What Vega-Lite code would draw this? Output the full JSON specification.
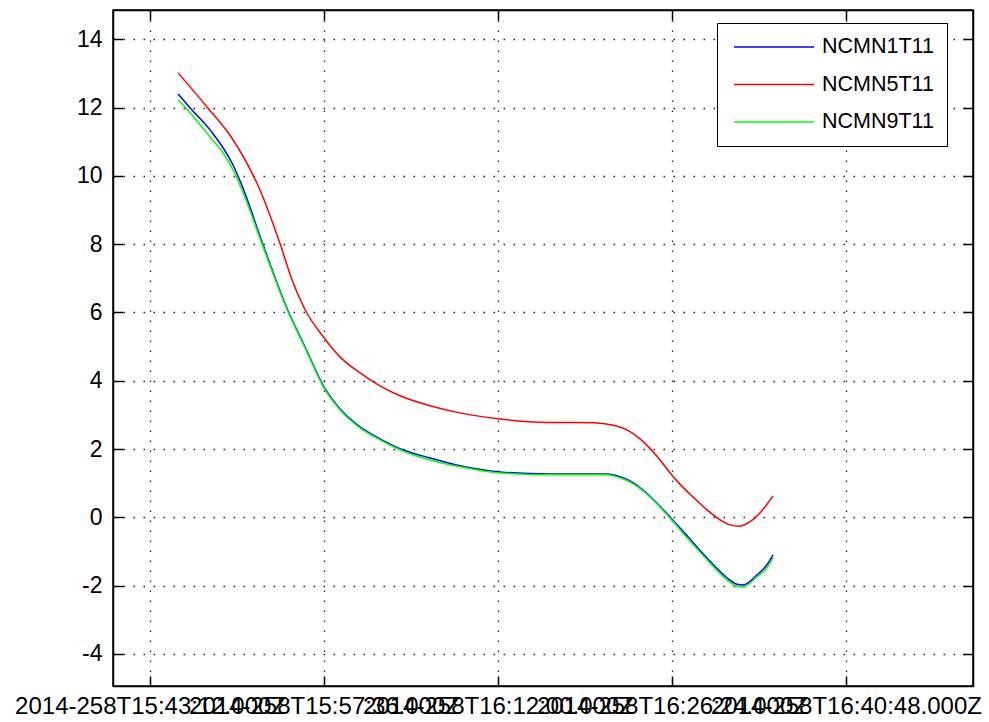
{
  "$schema": "https://vega.github.io/schema/vega-lite/v6.json",
  "width": 860,
  "height": 676,
  "autosize": {"type": "none"},
  "padding": {"left": 113, "top": 10, "right": 16, "bottom": 36},
  "background": "white",
  "config": {
    "view": {"stroke": "#000000", "strokeWidth": 1.5},
    "font": "Liberation Sans",
    "axis": {
      "domainColor": "#000000",
      "domainWidth": 1.5,
      "tickColor": "#000000",
      "tickWidth": 1.5,
      "tickSize": -10,
      "labelColor": "#000000",
      "labelFont": "Liberation Sans",
      "gridColor": "#000000",
      "gridDash": [1.6, 8.4],
      "gridWidth": 1.3,
      "gridOpacity": 0.85,
      "title": null
    }
  },
  "data": {
    "values": [
      {"s": "NCMN1T11", "t": 139, "v": 12.40},
      {"s": "NCMN1T11", "t": 199, "v": 11.99},
      {"s": "NCMN1T11", "t": 298, "v": 11.35},
      {"s": "NCMN1T11", "t": 412, "v": 10.32},
      {"s": "NCMN1T11", "t": 457, "v": 9.71},
      {"s": "NCMN1T11", "t": 556, "v": 8.07},
      {"s": "NCMN1T11", "t": 685, "v": 6.05},
      {"s": "NCMN1T11", "t": 770, "v": 4.99},
      {"s": "NCMN1T11", "t": 864, "v": 3.82},
      {"s": "NCMN1T11", "t": 943, "v": 3.18},
      {"s": "NCMN1T11", "t": 1043, "v": 2.65},
      {"s": "NCMN1T11", "t": 1142, "v": 2.30},
      {"s": "NCMN1T11", "t": 1241, "v": 2.01},
      {"s": "NCMN1T11", "t": 1390, "v": 1.74},
      {"s": "NCMN1T11", "t": 1539, "v": 1.51},
      {"s": "NCMN1T11", "t": 1738, "v": 1.33},
      {"s": "NCMN1T11", "t": 1986, "v": 1.27},
      {"s": "NCMN1T11", "t": 2269, "v": 1.27},
      {"s": "NCMN1T11", "t": 2334, "v": 1.19},
      {"s": "NCMN1T11", "t": 2398, "v": 1.02},
      {"s": "NCMN1T11", "t": 2448, "v": 0.80},
      {"s": "NCMN1T11", "t": 2517, "v": 0.42},
      {"s": "NCMN1T11", "t": 2582, "v": 0.01},
      {"s": "NCMN1T11", "t": 2667, "v": -0.54},
      {"s": "NCMN1T11", "t": 2766, "v": -1.19},
      {"s": "NCMN1T11", "t": 2865, "v": -1.77},
      {"s": "NCMN1T11", "t": 2915, "v": -1.96},
      {"s": "NCMN1T11", "t": 2945, "v": -1.98},
      {"s": "NCMN1T11", "t": 3014, "v": -1.69},
      {"s": "NCMN1T11", "t": 3064, "v": -1.39},
      {"s": "NCMN1T11", "t": 3094, "v": -1.10},

      {"s": "NCMN5T11", "t": 139, "v": 13.02},
      {"s": "NCMN5T11", "t": 283, "v": 12.02},
      {"s": "NCMN5T11", "t": 412, "v": 11.06},
      {"s": "NCMN5T11", "t": 546, "v": 9.59},
      {"s": "NCMN5T11", "t": 646, "v": 8.01},
      {"s": "NCMN5T11", "t": 705, "v": 6.96},
      {"s": "NCMN5T11", "t": 770, "v": 6.08},
      {"s": "NCMN5T11", "t": 864, "v": 5.26},
      {"s": "NCMN5T11", "t": 943, "v": 4.70},
      {"s": "NCMN5T11", "t": 1043, "v": 4.23},
      {"s": "NCMN5T11", "t": 1142, "v": 3.85},
      {"s": "NCMN5T11", "t": 1241, "v": 3.56},
      {"s": "NCMN5T11", "t": 1390, "v": 3.27},
      {"s": "NCMN5T11", "t": 1539, "v": 3.06},
      {"s": "NCMN5T11", "t": 1738, "v": 2.88},
      {"s": "NCMN5T11", "t": 1971, "v": 2.78},
      {"s": "NCMN5T11", "t": 2200, "v": 2.77},
      {"s": "NCMN5T11", "t": 2300, "v": 2.70},
      {"s": "NCMN5T11", "t": 2369, "v": 2.56},
      {"s": "NCMN5T11", "t": 2433, "v": 2.30},
      {"s": "NCMN5T11", "t": 2483, "v": 2.02},
      {"s": "NCMN5T11", "t": 2530, "v": 1.70},
      {"s": "NCMN5T11", "t": 2580, "v": 1.32},
      {"s": "NCMN5T11", "t": 2630, "v": 0.98},
      {"s": "NCMN5T11", "t": 2696, "v": 0.60},
      {"s": "NCMN5T11", "t": 2766, "v": 0.22},
      {"s": "NCMN5T11", "t": 2830, "v": -0.07},
      {"s": "NCMN5T11", "t": 2880, "v": -0.22},
      {"s": "NCMN5T11", "t": 2930, "v": -0.26},
      {"s": "NCMN5T11", "t": 2979, "v": -0.13},
      {"s": "NCMN5T11", "t": 3029, "v": 0.13},
      {"s": "NCMN5T11", "t": 3094, "v": 0.63},

      {"s": "NCMN9T11", "t": 139, "v": 12.23},
      {"s": "NCMN9T11", "t": 199, "v": 11.85},
      {"s": "NCMN9T11", "t": 298, "v": 11.14},
      {"s": "NCMN9T11", "t": 362, "v": 10.68},
      {"s": "NCMN9T11", "t": 412, "v": 10.18},
      {"s": "NCMN9T11", "t": 457, "v": 9.59},
      {"s": "NCMN9T11", "t": 556, "v": 8.01},
      {"s": "NCMN9T11", "t": 685, "v": 6.02},
      {"s": "NCMN9T11", "t": 770, "v": 4.96},
      {"s": "NCMN9T11", "t": 864, "v": 3.79},
      {"s": "NCMN9T11", "t": 943, "v": 3.15},
      {"s": "NCMN9T11", "t": 1043, "v": 2.62},
      {"s": "NCMN9T11", "t": 1142, "v": 2.27},
      {"s": "NCMN9T11", "t": 1241, "v": 1.98},
      {"s": "NCMN9T11", "t": 1390, "v": 1.68},
      {"s": "NCMN9T11", "t": 1539, "v": 1.48},
      {"s": "NCMN9T11", "t": 1738, "v": 1.30},
      {"s": "NCMN9T11", "t": 1986, "v": 1.25},
      {"s": "NCMN9T11", "t": 2269, "v": 1.25},
      {"s": "NCMN9T11", "t": 2334, "v": 1.16},
      {"s": "NCMN9T11", "t": 2398, "v": 0.99},
      {"s": "NCMN9T11", "t": 2448, "v": 0.78},
      {"s": "NCMN9T11", "t": 2517, "v": 0.40},
      {"s": "NCMN9T11", "t": 2582, "v": -0.02},
      {"s": "NCMN9T11", "t": 2667, "v": -0.60},
      {"s": "NCMN9T11", "t": 2766, "v": -1.24},
      {"s": "NCMN9T11", "t": 2865, "v": -1.83},
      {"s": "NCMN9T11", "t": 2915, "v": -2.02},
      {"s": "NCMN9T11", "t": 2945, "v": -2.04},
      {"s": "NCMN9T11", "t": 3014, "v": -1.74},
      {"s": "NCMN9T11", "t": 3064, "v": -1.48},
      {"s": "NCMN9T11", "t": 3094, "v": -1.19}
    ]
  },
  "layer": [
    {
      "mark": {"type": "line", "strokeWidth": 1.5, "interpolate": "monotone"},
      "encoding": {
        "x": {
          "field": "t", "type": "quantitative",
          "scale": {"domain": [-184, 4087], "nice": false, "zero": false},
          "axis": {
            "orient": "bottom",
            "values": [0, 864, 1728, 2592, 3456],
            "grid": true,
            "labelFontSize": 24,
            "labelPadding": 18,
            "labelOverlap": false,
            "labelFlush": false,
            "labelBound": false,
            "labelLimit": 0,
            "labelExpr": "datum.value == 0 ? '2014-258T15:43:12.000Z' : datum.value == 864 ? '2014-258T15:57:36.000Z' : datum.value == 1728 ? '2014-258T16:12:00.000Z' : datum.value == 2592 ? '2014-258T16:26:24.000Z' : '2014-258T16:40:48.000Z'"
          }
        },
        "y": {
          "field": "v", "type": "quantitative",
          "scale": {"domain": [-4.94, 14.86], "nice": false, "zero": false},
          "axis": {
            "orient": "left",
            "values": [-4, -2, 0, 2, 4, 6, 8, 10, 12, 14],
            "grid": true,
            "labelFontSize": 23,
            "labelPadding": 21,
            "labelExpr": "'' + datum.value"
          }
        },
        "color": {
          "field": "s", "type": "nominal",
          "scale": {"domain": ["NCMN1T11", "NCMN5T11", "NCMN9T11"], "range": ["#0000ff", "#ff0000", "#00ff00"]},
          "legend": {
            "title": null,
            "orient": "none",
            "legendX": 604,
            "legendY": 13,
            "symbolType": "M-0.7,0H7.3",
            "symbolSize": 400,
            "symbolStrokeWidth": 1.5,
            "labelFontSize": 21.5,
            "labelFont": "Liberation Sans",
            "labelColor": "#000000",
            "labelOffset": 70,
            "labelLimit": 0,
            "strokeColor": "#000000",
            "fillColor": "#ffffff",
            "padding": 13,
            "rowPadding": 15.5,
            "cornerRadius": 0
          }
        }
      }
    },
    {
      "mark": {"type": "line", "strokeOpacity": 0},
      "encoding": {
        "x": {
          "field": "t", "type": "quantitative",
          "scale": {"domain": [-184, 4087], "nice": false, "zero": false},
          "axis": {"orient": "top", "values": [0, 864, 1728, 2592, 3456], "grid": false, "labels": false}
        },
        "y": {
          "field": "v", "type": "quantitative",
          "scale": {"domain": [-4.94, 14.86], "nice": false, "zero": false},
          "axis": {"orient": "right", "values": [-4, -2, 0, 2, 4, 6, 8, 10, 12, 14], "grid": false, "labels": false}
        },
        "detail": {"field": "s", "type": "nominal"}
      }
    }
  ],
  "resolve": {"axis": {"x": "independent", "y": "independent"}}
}
